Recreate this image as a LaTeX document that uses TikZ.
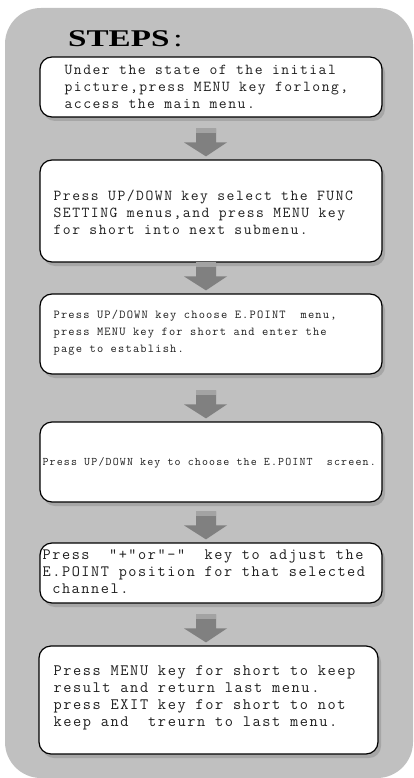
\documentclass[tikz,border=0pt]{standalone}
\usepackage{fontspec}
\usetikzlibrary{calc,shadows}
\newfontfamily\stepfont{Latin Modern Mono}[LetterSpace=10]
\newfontfamily\headfont{Liberation Serif}[FakeStretch=1.38]
\definecolor{panelgray}{HTML}{C0C0C0}
\definecolor{shadowgray}{HTML}{A6A6A6}
\definecolor{arrowgray}{HTML}{808080}
\definecolor{bandgray}{HTML}{A3A3A3}
\definecolor{textgray}{HTML}{1E1E1E}

% block arrow pointing down onto box #1
\newcommand\steparrow[1]{%
  \coordinate (tip) at ($(axis |- #1.north)+(0,-3)$);
  \fill[arrowgray] ($(tip)+(-10,-28)$) -- ($(tip)+(10,-28)$) -- ($(tip)+(10,-14)$)
    -- ($(tip)+(21,-14)$) -- (tip) -- ($(tip)+(-22,-14)$) -- ($(tip)+(-10,-14)$) -- cycle;
  \fill[bandgray] ($(tip)+(-10,-28)$) rectangle ($(tip)+(10,-23)$);
}

\begin{document}
\begin{tikzpicture}
  [x=1pt,y=-1pt,
   stepbox/.style={draw,line width=1.2pt,rounded corners=12pt,fill=white,inner sep=0pt,
     drop shadow={shadow xshift=3pt,shadow yshift=-4pt,fill=shadowgray,opacity=1}},
   steptext/.style={anchor=west,align=left,inner sep=0pt,text=textgray}]
  \useasboundingbox (0,0) rectangle (413,778);
  \fill[panelgray,rounded corners=36pt] (5,8) rectangle (413,778);

  \node[anchor=base west,inner sep=0pt,font=\headfont\bfseries\fontsize{24}{24}\selectfont]
    (title) at (68,47) {STEPS\,{\mdseries :}};

  % the six boxes
  \node[stepbox,minimum width=342pt,minimum height=60pt]  (s1) at (211,87)  {};
  \node[stepbox,minimum width=342pt,minimum height=102pt] (s2) at (211,211) {};
  \node[stepbox,minimum width=342pt,minimum height=80pt]  (s3) at (211,334) {};
  \node[stepbox,minimum width=342pt,minimum height=80pt]  (s4) at (211,462) {};
  \node[stepbox,minimum width=342pt,minimum height=60pt]  (s5) at (211,573) {};
  \node[stepbox,minimum width=339pt,minimum height=108pt] (s6) at (208.5,700) {};

  \coordinate (axis) at (206,0);
  \foreach \n in {s2,s3,s4,s5,s6} {\steparrow{\n}}

  % texts
  \node[steptext,font=\stepfont\fontsize{15.2}{17}\selectfont] (t1) at ($(s1.west)+(25,0)$)
    {Under the state of the initial\\picture,press MENU key forlong,\\access the main menu.};
  \node[steptext,font=\stepfont\fontsize{15.2}{17}\selectfont] (t2) at ($(s2.west)+(14,1)$)
    {Press UP/DOWN key select the FUNC\\SETTING menus,and press MENU key\\for short into next submenu.};
  \node[steptext,font=\stepfont\fontsize{12.1}{17}\selectfont] (t3) at ($(s3.west)+(14,-1)$)
    {Press UP/DOWN key choose E.POINT~ menu,\\press MENU key for short and enter the\\page to establish.};
  \node[steptext,font=\stepfont\fontsize{11.6}{17}\selectfont] (t4) at ($(s4.west)+(3,1)$)
    {Press UP/DOWN key to choose the E.POINT~ screen.};
  \node[steptext,font=\stepfont\fontsize{15.8}{17}\selectfont] (t5) at ($(s5.west)+(3,-1)$)
    {Press~ "+"or"-"~ key to adjust the\\E.POINT position for that selected\\~channel.};
  \node[steptext,font=\stepfont\fontsize{15.9}{17}\selectfont] (t6) at ($(s6.west)+(15,-2)$)
    {Press MENU key for short to keep\\result and return last menu.\\press EXIT key for short to not\\keep and~ treurn to last menu.};
\end{tikzpicture}
\end{document}
